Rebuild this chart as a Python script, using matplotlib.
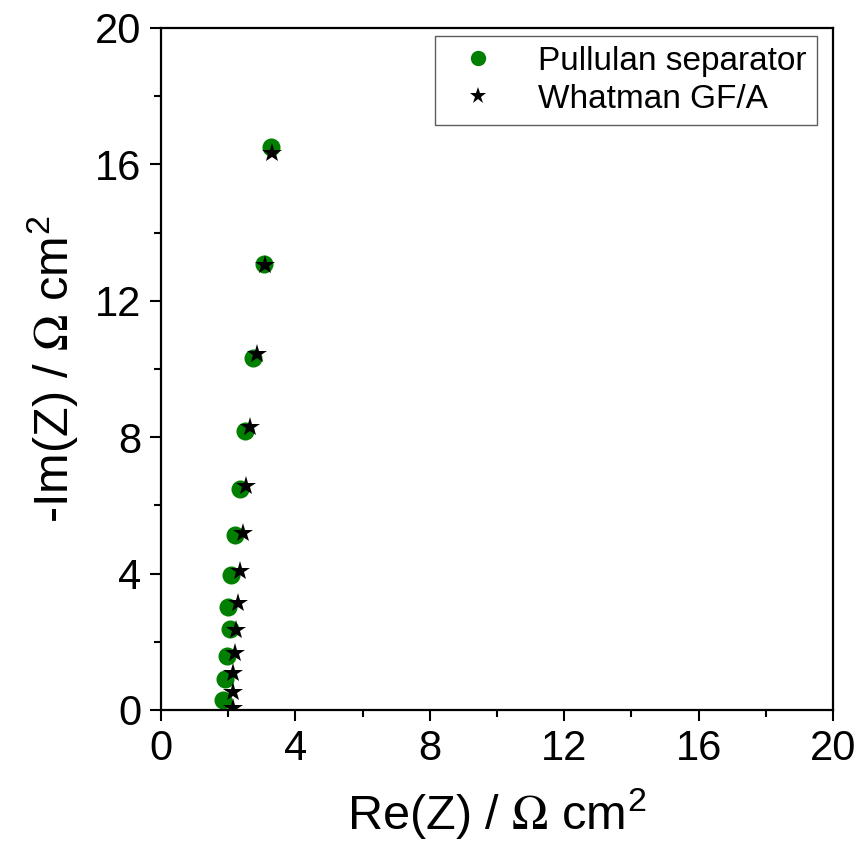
import matplotlib.pyplot as plt
from matplotlib.ticker import MultipleLocator

plt.rcParams["font.family"] = ["Liberation Sans", "DejaVu Sans"]
plt.rcParams["mathtext.fontset"] = "stix"

# Nyquist data (Ohm cm^2)
pullulan_re = [3.28, 3.07, 2.74, 2.50, 2.35, 2.21, 2.09, 2.00, 2.06, 1.97, 1.91, 1.85]
pullulan_im = [16.50, 13.07, 10.31, 8.19, 6.49, 5.14, 3.96, 3.02, 2.38, 1.59, 0.91, 0.29]

whatman_re = [3.31, 3.10, 2.86, 2.65, 2.53, 2.44, 2.35, 2.30, 2.24, 2.21, 2.15, 2.15, 2.15]
whatman_im = [16.33, 13.04, 10.43, 8.31, 6.58, 5.20, 4.08, 3.14, 2.35, 1.67, 1.09, 0.53, 0.06]

fig = plt.figure(figsize=(8.62, 8.55), dpi=100)
ax = fig.add_axes([0.1868, 0.1696, 0.7796, 0.7977])

ax.plot(pullulan_re, pullulan_im, "o", color="#007f00", markersize=13,
        markeredgewidth=0, label="Pullulan separator")
ax.plot(whatman_re, whatman_im, "*", color="black", markersize=15,
        markeredgewidth=0, label="Whatman GF/A")

ax.set_xlim(0, 20)
ax.set_ylim(0, 20)
ax.xaxis.set_major_locator(MultipleLocator(4))
ax.xaxis.set_minor_locator(MultipleLocator(2))
ax.yaxis.set_major_locator(MultipleLocator(4))
ax.yaxis.set_minor_locator(MultipleLocator(2))
ax.tick_params(which="both", direction="out", width=1.5, labelsize=30, pad=6)
ax.tick_params(which="major", length=8)
ax.tick_params(which="minor", length=5)
for spine in ax.spines.values():
    spine.set_linewidth(1.6)

ax.set_xlabel("Re(Z) / $\\Omega$ cm$^\\mathregular{2}$", fontsize=35, labelpad=12)
ax.set_ylabel("-Im(Z) / $\\Omega$ cm$^\\mathregular{2}$", fontsize=35, labelpad=10)

leg = ax.legend(loc="upper right", bbox_to_anchor=(0.976, 0.988), borderaxespad=0,
                fontsize=24, frameon=True, fancybox=False, edgecolor="#333333",
                handlelength=2.0, handletextpad=0.8, borderpad=0.3,
                labelspacing=0.2, markerscale=0.85)
leg.get_frame().set_linewidth(1.0)

fig.savefig("out.png", dpi=100)
